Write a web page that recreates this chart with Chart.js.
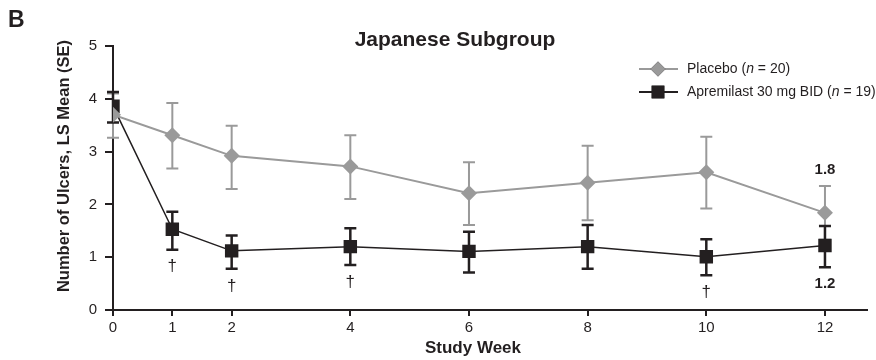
<!DOCTYPE html>
<html>
<head>
<meta charset="utf-8">
<script src="https://cdn.jsdelivr.net/npm/chart.js@4.4.1/dist/chart.umd.min.js"></script>
<style>
  html, body { margin: 0; padding: 0; background: #fff; }
  #wrap { width: 876px; height: 360px; }
</style>
</head>
<body>
<div id="wrap"><canvas id="chart-ulcers" width="876" height="360"></canvas></div>
<script>
var weeks = [0, 1, 2, 4, 6, 8, 10, 12];
var weekTicks = [0, 1, 2, 4, 6, 8, 10, 12];
var yTicks = [0, 1, 2, 3, 4, 5];

var placeboMean = [3.70, 3.31, 2.92, 2.72, 2.21, 2.41, 2.61, 1.84];
var placeboHigh = [4.10, 3.92, 3.49, 3.31, 2.80, 3.11, 3.28, 2.35];
var placeboLow  = [3.26, 2.68, 2.29, 2.10, 1.61, 1.70, 1.92, 1.33];

var apremMean = [3.86, 1.53, 1.12, 1.20, 1.11, 1.20, 1.01, 1.22];
var apremHigh = [4.13, 1.86, 1.41, 1.55, 1.48, 1.61, 1.34, 1.59];
var apremLow  = [3.55, 1.14, 0.78, 0.85, 0.71, 0.78, 0.66, 0.81];

var daggerWeeks = [1, 2, 4, 10];
var placeboEndLabel = '1.8';
var apremEndLabel = '1.2';

var grey = '#9a9a9a';
var dark = '#231f20';
var fontName = '"Liberation Sans", Arial, Helvetica, sans-serif';

function toPoints(xs, ys) {
    return xs.map(function (x, i) { return { x: x, y: ys[i] }; });
}

// error bars, daggers, end labels, titles, legend
var extrasPlugin = {
    id: 'extras',
    beforeDatasetsDraw: function (chart) {
        var ctx = chart.ctx;
        var xs = chart.scales.x, ys = chart.scales.y;
        function bars(hi, lo, color, lw) {
            ctx.save();
            ctx.strokeStyle = color;
            ctx.lineWidth = lw;
            weeks.forEach(function (w, i) {
                var px = xs.getPixelForValue(w);
                var top = ys.getPixelForValue(hi[i]);
                var bot = ys.getPixelForValue(lo[i]);
                ctx.beginPath();
                ctx.moveTo(px, top); ctx.lineTo(px, bot);
                ctx.moveTo(px - 6, top); ctx.lineTo(px + 6, top);
                ctx.moveTo(px - 6, bot); ctx.lineTo(px + 6, bot);
                ctx.stroke();
            });
            ctx.restore();
        }
        bars(placeboHigh, placeboLow, grey, 2);
        bars(apremHigh, apremLow, dark, 2.5);
    },
    afterDraw: function (chart) {
        var ctx = chart.ctx;
        var xs = chart.scales.x, ys = chart.scales.y;
        ctx.save();
        ctx.fillStyle = dark;
        ctx.textAlign = 'center';
        ctx.textBaseline = 'middle';

        // daggers
        ctx.font = '17px ' + fontName;
        daggerWeeks.forEach(function (w) {
            var i = weeks.indexOf(w);
            ctx.fillText('\u2020', xs.getPixelForValue(w), ys.getPixelForValue(apremLow[i]) + 17);
        });

        // end values
        var last = weeks.length - 1;
        ctx.font = 'bold 15px ' + fontName;
        ctx.fillText(placeboEndLabel, xs.getPixelForValue(weeks[last]), ys.getPixelForValue(placeboHigh[last]) - 16);
        ctx.fillText(apremEndLabel, xs.getPixelForValue(weeks[last]), ys.getPixelForValue(apremLow[last]) + 17);

        // titles
        ctx.font = 'bold 21px ' + fontName;
        ctx.fillText('Japanese Subgroup', 455, 40);
        ctx.font = 'bold 17px ' + fontName;
        ctx.fillText('Study Week', 473, 348);
        ctx.save();
        ctx.translate(64, 166);
        ctx.rotate(-Math.PI / 2);
        ctx.font = 'bold 16.5px ' + fontName;
        ctx.fillText('Number of Ulcers, LS Mean (SE)', 0, 0);
        ctx.restore();
        ctx.textAlign = 'left';
        ctx.font = 'bold 23px ' + fontName;
        ctx.fillText('B', 8, 21);

        // legend
        function legendRow(y, color, style, r, parts) {
            ctx.strokeStyle = color;
            ctx.lineWidth = 2;
            ctx.beginPath();
            ctx.moveTo(639, y); ctx.lineTo(678, y);
            ctx.stroke();
            Chart.helpers.drawPoint(ctx, { pointStyle: style, radius: r, borderWidth: 0 }, 658, y);
            ctx.fillStyle = color;
            ctx.fill();
            ctx.fillStyle = dark;
            var x = 687;
            parts.forEach(function (p) {
                ctx.font = (p.it ? 'italic ' : '') + '14px ' + fontName;
                ctx.fillText(p.t, x, y);
                x += ctx.measureText(p.t).width;
            });
        }
        legendRow(69, grey, 'rectRot', 7.5, [{ t: 'Placebo (' }, { t: 'n', it: true }, { t: ' = 20)' }]);
        legendRow(92, dark, 'rect', 9, [{ t: 'Apremilast 30 mg BID (' }, { t: 'n', it: true }, { t: ' = 19)' }]);
        ctx.restore();
    }
};

var ctxUlcers = document.getElementById('chart-ulcers').getContext('2d');
var chartUlcers = new Chart(ctxUlcers, {
    type: 'line',
    data: {
        datasets: [{
            label: 'Placebo (n = 20)',
            data: toPoints(weeks, placeboMean),
            borderColor: grey,
            backgroundColor: grey,
            borderWidth: 2,
            pointStyle: 'rectRot',
            pointRadius: 8,
            pointBorderWidth: 0,
            tension: 0
        }, {
            label: 'Apremilast 30 mg BID (n = 19)',
            data: toPoints(weeks, apremMean),
            borderColor: dark,
            backgroundColor: dark,
            borderWidth: 1.5,
            pointStyle: 'rect',
            pointRadius: 9.5,
            pointBorderWidth: 0,
            tension: 0
        }]
    },
    options: {
        responsive: false,
        animation: false,
        devicePixelRatio: 1,
        layout: { padding: { left: 0, top: 46, right: 2, bottom: 0 } },
        plugins: {
            legend: { display: false },
            tooltip: { enabled: false }
        },
        scales: {
            x: {
                type: 'linear',
                min: 0,
                max: 12.7,
                afterBuildTicks: function (axis) {
                    axis.ticks = weekTicks.map(function (v) { return { value: v }; });
                },
                afterFit: function (axis) { axis.height = 50; },
                grid: { drawOnChartArea: false, drawTicks: true, tickLength: 6, color: dark, lineWidth: 2 },
                border: { color: dark, width: 2 },
                ticks: { color: dark, font: { family: fontName, size: 15 }, padding: 3, maxRotation: 0 }
            },
            y: {
                min: 0,
                max: 5,
                afterBuildTicks: function (axis) {
                    axis.ticks = yTicks.map(function (v) { return { value: v }; });
                },
                afterFit: function (axis) { axis.width = 113; },
                grid: { drawOnChartArea: false, drawTicks: true, tickLength: 8, color: dark, lineWidth: 2 },
                border: { color: dark, width: 2 },
                ticks: { color: dark, font: { family: fontName, size: 15 }, padding: 8 }
            }
        }
    },
    plugins: [extrasPlugin]
});
</script>
</body>
</html>
